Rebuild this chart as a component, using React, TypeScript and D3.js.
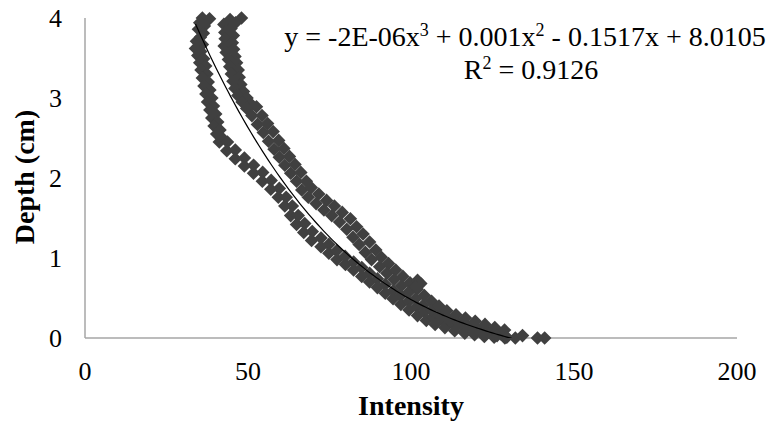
import React from "react";
import * as d3 from "d3";

// left strand of the scatter (intensity, depth in cm)
const bandA: [number, number][] = [
  [36.0, 4.0], [38.2, 3.99], [35.2, 3.94], [36.6, 3.9], [34.8, 3.86], [36.3, 3.81], [35.4, 3.76], [34.2, 3.71],
  [36.0, 3.67], [33.9, 3.62], [35.5, 3.58], [34.6, 3.53], [36.4, 3.49], [35.2, 3.44], [37.0, 3.4], [35.6, 3.35],
  [37.4, 3.3], [36.0, 3.25], [37.8, 3.2], [36.5, 3.15], [38.3, 3.1], [37.1, 3.05], [38.9, 3.0], [37.6, 2.95],
  [39.4, 2.9], [38.3, 2.85], [40.1, 2.8], [38.9, 2.75], [40.7, 2.7], [39.6, 2.65], [41.4, 2.6], [40.4, 2.55],
  [42.1, 2.5], [41.2, 2.45],
  [43.7, 2.45], [43.5, 2.34], [46.1, 2.35], [46.1, 2.24], [48.9, 2.25], [48.9, 2.15], [51.7, 2.16], [51.7, 2.06],
  [54.5, 2.07], [54.4, 1.96], [57.1, 1.97], [57.0, 1.86], [59.6, 1.87], [59.3, 1.76], [61.7, 1.76], [61.3, 1.65],
  [63.6, 1.65], [63.1, 1.53], [65.4, 1.53], [64.9, 1.42], [67.4, 1.43], [67.1, 1.32], [69.7, 1.33], [69.5, 1.22],
  [72.4, 1.25], [72.4, 1.14], [74.8, 1.17], [74.8, 1.06], [77.2, 1.09], [77.3, 0.98], [79.8, 1.02], [79.9, 0.92],
  [82.4, 0.95], [82.4, 0.85], [84.9, 0.88], [84.9, 0.77], [87.3, 0.81], [87.3, 0.7], [89.7, 0.74], [89.7, 0.63],
  [92.1, 0.67], [92.1, 0.56], [94.5, 0.59], [94.5, 0.49], [96.9, 0.53], [96.9, 0.42], [99.3, 0.46], [99.4, 0.35],
  [101.7, 0.39], [102.0, 0.28], [104.2, 0.33], [104.7, 0.22], [106.8, 0.27], [107.4, 0.17], [109.7, 0.23], [110.4, 0.13],
  [112.7, 0.19], [113.4, 0.09], [115.6, 0.16], [116.5, 0.06], [118.6, 0.13], [119.5, 0.04], [121.6, 0.1], [122.5, 0.02],
  [124.6, 0.08], [125.5, 0.01], [127.6, 0.05], [128.8, 0.0],
];

// right strand
const bandB: [number, number][] = [
  [48.0, 4.0], [44.5, 3.98], [46.2, 3.94], [42.6, 3.92], [44.8, 3.87], [42.9, 3.82], [45.5, 3.78], [43.0, 3.74],
  [45.2, 3.69], [42.7, 3.65], [45.6, 3.61], [43.3, 3.57], [46.0, 3.52], [44.0, 3.48], [46.5, 3.44], [44.4, 3.39],
  [47.0, 3.35], [44.9, 3.3], [47.3, 3.26], [45.4, 3.21], [47.8, 3.17], [46.0, 3.12], [48.6, 3.08], [46.9, 3.03],
  [49.7, 3.0], [48.2, 2.95], [51.0, 2.92], [49.6, 2.87],
  [52.6, 2.89], [51.2, 2.78], [54.3, 2.78], [52.9, 2.67], [56.0, 2.68], [54.7, 2.57], [57.7, 2.58], [56.3, 2.46],
  [59.4, 2.47], [58.0, 2.36], [61.0, 2.37], [59.6, 2.26], [62.7, 2.27], [61.3, 2.16], [64.4, 2.17], [63.1, 2.06],
  [66.2, 2.07], [64.9, 1.96], [67.9, 1.96], [66.5, 1.85], [69.4, 1.88], [68.5, 1.76], [71.7, 1.8], [70.9, 1.68],
  [74.1, 1.72], [73.3, 1.6], [76.5, 1.65], [75.7, 1.53], [78.9, 1.57], [78.1, 1.45], [81.4, 1.49], [80.3, 1.36],
  [83.3, 1.39], [82.2, 1.26], [85.3, 1.3], [84.1, 1.17], [87.3, 1.2], [86.0, 1.07], [89.2, 1.1], [87.9, 0.98],
  [90.9, 1.01], [90.4, 0.89], [93.1, 0.93], [92.6, 0.81], [95.3, 0.85], [94.8, 0.73], [97.5, 0.77], [97.0, 0.65],
  [99.7, 0.69], [99.2, 0.57], [101.9, 0.61], [101.4, 0.49], [104.1, 0.53], [103.7, 0.41], [106.3, 0.46], [106.3, 0.35],
  [108.6, 0.4], [108.9, 0.29], [111.0, 0.34], [111.6, 0.23], [113.8, 0.29], [114.4, 0.19], [116.7, 0.25], [117.4, 0.15],
  [119.7, 0.21], [120.4, 0.11], [122.7, 0.17], [123.4, 0.07], [125.7, 0.13], [126.4, 0.03], [128.7, 0.1], [129.4, 0.01],
  [102.0, 0.72], [103.0, 0.68], [101.5, 0.64],
];

// stray points at the tip
const tailPoints: [number, number][] = [
  [132.0, 0.0], [134.2, 0.03], [138.8, 0.0], [141.0, 0.0],
];

const xTicks = [0, 50, 100, 150, 200];
const yTicks = [0, 1, 2, 3, 4];

// cubic trendline, c0 + c1 x + c2 x^2 + c3 x^3
const trendCoef = [8.0105, -0.1517, 0.001, -2.36e-6];

export default function App() {
  const svgRef = React.useRef(null);
  const width = 775;
  const height = 425;
  const margin = { left: 85, right: 38, top: 18, bottom: 87 };

  React.useEffect(() => {
    const w = width - margin.left - margin.right;
    const h = height - margin.top - margin.bottom;
    const allPts = [...bandA, ...bandB, ...tailPoints];

    const x = d3.scaleLinear().domain([0, 200]).range([0, w]);
    const y = d3.scaleLinear().domain([0, 4]).range([h, 0]);

    const svgEl = d3.select(svgRef.current);
    svgEl.selectAll("*").remove();
    const svg = svgEl.append("g").attr("transform", `translate(${margin.left},${margin.top})`);

    svgEl.append("defs").append("clipPath").attr("id", "plotClip")
      .append("rect").attr("x", 0).attr("y", 0).attr("width", w).attr("height", h);

    const font = "'Liberation Serif', 'Times New Roman', serif";

    // axes (Excel style: lines only, no ticks)
    svg.append("line").attr("x1", 0).attr("x2", 0).attr("y1", 0).attr("y2", h)
      .attr("stroke", "#a6a6a6").attr("stroke-width", 1.5);
    svg.append("line").attr("x1", 0).attr("x2", w).attr("y1", h).attr("y2", h)
      .attr("stroke", "#a6a6a6").attr("stroke-width", 1.5);

    svg.append("g").selectAll("text").data(xTicks).enter().append("text")
      .attr("x", d => x(d)).attr("y", h + 42)
      .attr("text-anchor", "middle").attr("font-family", font).attr("font-size", 26)
      .attr("fill", "#000").text(d => d);

    svg.append("g").selectAll("text").data(yTicks).enter().append("text")
      .attr("x", -23).attr("y", d => y(d) + 9)
      .attr("text-anchor", "end").attr("font-family", font).attr("font-size", 26)
      .attr("fill", "#000").text(d => d);

    // markers
    const diamond = (r: number) => `M0,${-r}L${r},0L0,${r}L${-r},0Z`;
    svg.append("g").selectAll("path").data(allPts).enter().append("path")
      .attr("d", diamond(6.8))
      .attr("transform", d => `translate(${x(d[0])},${y(d[1])})`)
      .attr("fill", "#404040");

    // trendline over the data range
    const [xmin, xmax] = d3.extent(allPts, d => d[0]) as [number, number];
    const poly = (v: number) => trendCoef[0] + trendCoef[1] * v + trendCoef[2] * v * v + trendCoef[3] * v * v * v;
    const xs = d3.range(0, 121).map(i => xmin + (xmax - xmin) * i / 120);
    const line = d3.line<number>().x(v => x(v)).y(v => y(poly(v))).curve(d3.curveMonotoneX);
    svg.append("path").attr("d", line(xs)).attr("fill", "none")
      .attr("stroke", "#000").attr("stroke-width", 1.2).attr("clip-path", "url(#plotClip)");

    // equation label
    const eq = svgEl.append("text").attr("x", 525).attr("y", 46)
      .attr("text-anchor", "middle").attr("font-family", font).attr("font-size", 28).attr("fill", "#000");
    eq.append("tspan").text("y = -2E-06x");
    eq.append("tspan").attr("dy", -10).attr("font-size", 18).text("3");
    eq.append("tspan").attr("dy", 10).text(" + 0.001x");
    eq.append("tspan").attr("dy", -10).attr("font-size", 18).text("2");
    eq.append("tspan").attr("dy", 10).text(" - 0.1517x + 8.0105");

    const r2 = svgEl.append("text").attr("x", 531).attr("y", 79)
      .attr("text-anchor", "middle").attr("font-family", font).attr("font-size", 28).attr("fill", "#000");
    r2.append("tspan").text("R");
    r2.append("tspan").attr("dy", -10).attr("font-size", 18).text("2");
    r2.append("tspan").attr("dy", 10).text(" = 0.9126");

    // axis titles
    svgEl.append("text").attr("x", 411).attr("y", 415)
      .attr("text-anchor", "middle").attr("font-family", font).attr("font-size", 28)
      .attr("font-weight", "bold").attr("fill", "#000").text("Intensity");

    svgEl.append("text").attr("transform", "translate(34,177) rotate(-90)")
      .attr("text-anchor", "middle").attr("font-family", font).attr("font-size", 28)
      .attr("font-weight", "bold").attr("fill", "#000").text("Depth (cm)");
  }, []);

  return (
    <svg ref={svgRef} width={width} height={height}
      style={{ position: "absolute", left: 0, top: 0, background: "#fff" }} />
  );
}
